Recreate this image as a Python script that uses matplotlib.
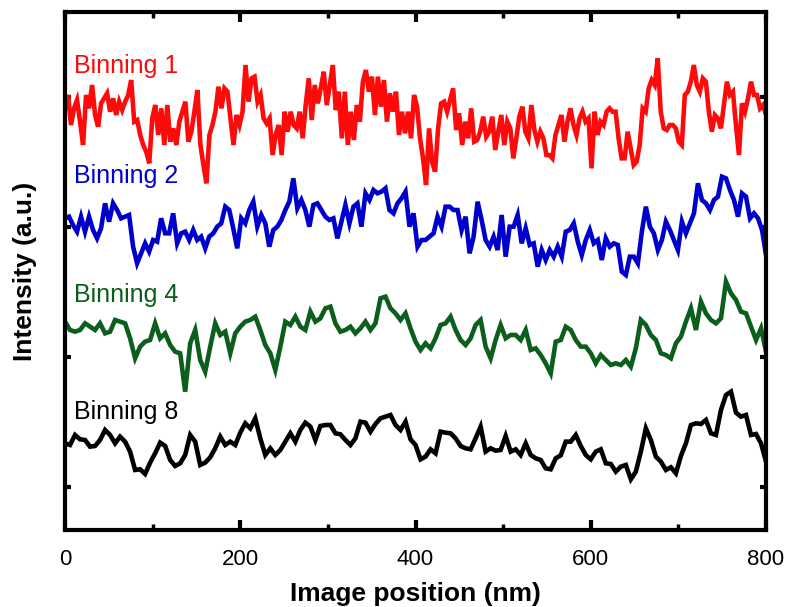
import numpy as np
import matplotlib
matplotlib.use('Agg')
import matplotlib.pyplot as plt
from matplotlib.ticker import MultipleLocator, FixedLocator

plt.rcParams['font.family'] = ['Liberation Sans', 'DejaVu Sans']

# intensity profiles (a.u.), equally spaced along 0-800 nm
binning_1 = [
    260, 300, 210, 260, 285, 220, 150, 300, 260, 330, 240, 205, 275, 290, 305, 250, 290, 240, 280, 255,
    280, 300, 345, 220, 225, 180, 150, 130, 95, 230, 270, 180, 260, 150, 270, 160, 200, 150, 220, 250,
    280, 160, 190, 250, 315, 150, 90, 35, 180, 210, 250, 325, 260, 320, 310, 230, 150, 240, 210,
    250, 390, 280, 350, 355, 280, 300, 230, 215, 230, 120, 180, 210, 120, 250, 190, 250, 210, 200, 250,
    170, 270, 350, 225, 330, 275, 320, 370, 270, 330, 390, 255, 310, 170, 310, 150, 250, 165, 270, 220,
    340, 375, 310, 355, 240, 355, 265, 345, 220, 305, 250, 310, 180, 250, 185, 250, 170, 300,
    265, 170, 110, 30, 200, 100, 70, 200, 275, 280, 250, 285, 320, 195, 245, 150, 220, 170, 260, 160,
    165, 190, 235, 175, 190, 235, 135, 190, 240, 150, 220, 200, 110, 170, 235, 265, 190, 170, 270, 195,
    160, 190, 170, 120, 120, 110, 180, 210, 240, 160, 220, 260, 210, 180, 230, 250, 220, 230,
    80, 250, 180, 220, 210, 250, 260, 250, 250, 170, 110, 110, 190, 140, 90, 100, 150, 260, 250, 320,
    345, 330, 410, 250, 200, 195, 210, 210, 200, 160, 150, 300, 310, 340, 390, 330, 310, 350, 340, 250,
    190, 240, 230, 200, 270, 340, 300, 310, 210, 120, 275, 250, 290, 340, 300, 300, 260, 270, 240,
]
binning_2 = [
    275, 280, 255, 235, 280, 235, 280, 240, 215, 245, 320, 265, 320, 300, 275, 280, 285, 190, 140, 170,
    200, 175, 210, 205, 275, 230, 230, 290, 200, 230, 235, 210, 240, 210, 220, 185, 220, 230, 250, 260,
    310, 300, 245, 185, 275, 260, 300, 325, 250, 285, 260, 190, 240, 250, 270, 300, 325, 395, 305, 330,
    300, 250, 315, 320, 300, 280, 270, 275, 215, 265, 315, 260, 310, 320, 250, 350, 330, 360, 350, 355,
    365, 300, 290, 320,
    335, 355, 250, 290, 190, 210, 210, 220, 230, 280, 250, 310, 310, 300, 300, 240, 280, 170, 220, 325,
    270, 210, 190, 220, 180, 285, 160, 250, 250, 285, 200, 245, 195, 200, 130, 180, 150, 180, 160, 190,
    160, 235, 240, 260, 205, 165, 210, 240, 200, 210, 150, 215, 190, 200, 195, 115, 105, 160, 160, 140,
    235, 310, 250, 230, 180, 210, 265, 240, 210, 180, 265, 230, 260, 290, 380, 330, 320, 300, 330, 340,
    400, 395, 360, 330, 280, 350, 340, 275, 290, 275, 240, 165,
]
binning_4 = [
    325, 300, 295, 300, 320, 310, 300, 320, 290, 295, 330, 325, 320, 275, 215, 250, 265, 270, 320, 275,
    290, 255, 235, 230, 115, 260, 300, 210, 175, 250, 320, 285, 295, 230, 290, 310, 325, 330, 340, 300,
    255, 230, 180, 250, 325, 315, 340, 310, 300, 355, 325, 335, 365, 370, 320, 295, 300, 310, 290, 305,
    325, 300, 320, 395, 400, 365, 350,
    330, 350, 305, 265, 240, 260, 245, 275, 315, 320, 340, 300, 270, 255, 275, 315, 330, 250, 215, 270,
    315, 275, 285, 285, 270, 300, 240, 245, 225, 200, 170, 265, 270, 310, 300, 270, 250, 250, 230, 200,
    225, 210, 195, 200, 195, 210, 190, 245, 330, 315, 285, 270, 230, 225, 215, 260, 280, 325, 365, 300,
    385, 350, 330, 320, 335, 445, 410, 390, 355, 350, 310, 270, 305, 235,
]
binning_8 = [
    260, 255, 285, 272, 270, 250, 252, 270, 300, 285, 260, 280, 265, 235, 180, 182, 168, 202, 230, 262,
    252, 210, 192, 200, 225, 285, 265, 195, 202, 218, 245, 280, 255, 265, 255, 292, 320, 305, 335, 275,
    225, 245, 225, 240, 265, 290, 265, 300, 322, 310, 270, 312, 315, 315, 290, 287, 270, 255, 275, 325,
    322, 295, 318, 335, 340, 345, 315,
    300, 325, 272, 255, 212, 220, 242, 230, 295, 292, 290, 275, 252, 245, 242, 275, 310, 235, 245, 238,
    240, 282, 235, 242, 225, 260, 225, 215, 210, 185, 182, 215, 224, 265, 265, 285, 252, 225, 212, 235,
    242, 200, 198, 175, 190, 195, 152, 175, 235, 305, 270, 220, 205, 180, 188, 170, 222, 260, 315, 320,
    318, 330, 290, 285, 360, 405, 415, 352, 340, 345, 285, 288, 260, 205,
]

series = [binning_1, binning_2, binning_4, binning_8]
labels = ['Binning 1', 'Binning 2', 'Binning 4', 'Binning 8']
colors = ['#ff0a0a', '#0000cd', '#0b5e1c', 'black']
offsets = [1005, 660, 300, 0]      # vertical shift for clarity
label_y = [1372, 1042, 685, 333]

fig = plt.figure(figsize=(7.86, 6.07), dpi=100)
ax = fig.add_axes([0.0827, 0.1269, 0.8919, 0.8533])

for vals, lab, c, off, ly in zip(series, labels, colors, offsets, label_y):
    x = np.linspace(0, 800, len(vals))
    ax.plot(x, np.array(vals) + off, color=c, lw=3.3, solid_joinstyle='miter')
    ax.text(10, ly, lab, color=c, fontsize=18, va='baseline', ha='left')

ax.set_xlim(0, 800)
ax.set_ylim(0, 1554)
ax.xaxis.set_major_locator(MultipleLocator(200))
ax.xaxis.set_minor_locator(MultipleLocator(100))
ax.yaxis.set_major_locator(FixedLocator([130, 520, 910, 1300]))

for sp in ax.spines.values():
    sp.set_linewidth(3)

ax.tick_params(which='both', direction='in', top=True, right=True)
ax.tick_params(axis='x', which='major', length=7.5, width=3, labelsize=16, pad=14)
ax.tick_params(axis='x', which='minor', length=4, width=2.5)
ax.tick_params(axis='y', which='major', length=4.5, width=3, labelleft=False)

ax.set_xlabel('Image position (nm)', fontsize=19, fontweight='bold', labelpad=8)
ax.set_ylabel('Intensity (a.u.)', fontsize=19, fontweight='bold', labelpad=20)

fig.savefig('out.png', dpi=100)
